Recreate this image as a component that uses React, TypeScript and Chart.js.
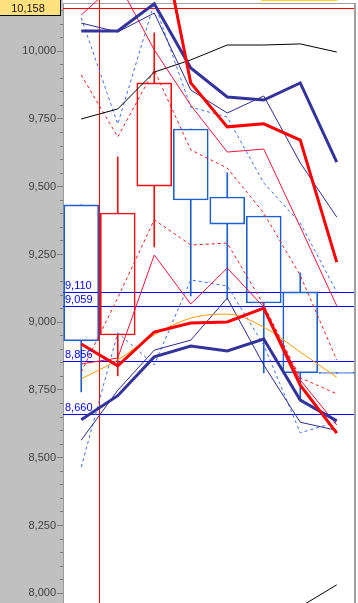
import React, { useEffect, useRef } from "react";
import { Chart, registerables } from "chart.js";

Chart.register(...registerables);

// ---- data ----
const categories = ["1", "2", "3", "4", "5", "6", "7", "8"];

const candleOpen = [9433, 8953, 9502, 9713, 9462, 9392, 9112, 8815];
const candleClose = [8931, 9403, 9883, 9451, 9362, 9071, 8813, 8811];
const candleHigh = [9433, 9610, 10068, 9713, 9551, 9392, 9182, 8815];
const candleLow = [8743, 8802, 9278, 9097, 9085, 8813, 8713, 8811];

const thickNavyTop = [10075, 10075, 10175, 9938, 9831, 9820, 9883, 9591];
const thinNavyTop = [10104, 10071, 10141, 9857, 9772, 9835, 9588, 9388];
const thickRedTop = [null, null, 10558, 9883, 9721, 9732, 9672, 9222];
const thickRedLow = [8920, 8839, 8964, 8997, 9001, 9052, 8768, 8591];
const thickNavyLow = [8640, 8729, 8872, 8912, 8894, 8938, 8713, 8636];
const orangeLine = [8791, 8861, 8953, 9015, 9030, 8982, 8890, 8797];
const blackLine = [9750, 9787, 9923, 9968, 10023, 10023, 10027, 9997];
const blackLow = [null, null, null, null, null, null, 7950, 8031];
const thinRedTop = [10134, 10256, 10005, 9801, 9628, 9639, 9352, 9060];
const thinRedLow = [8846, 8868, 9248, 9067, 9200, 9056, 8787, 8621];
const redDashTop = [9912, 9684, 9931, 9636, 9569, 9403, 9173, 8861];
const redDashLow = [8817, 9090, 9378, 9285, 9292, 9064, 8795, 8736];
const blueDashTop = [10123, 9731, 10178, 9794, 9757, 9514, 9366, 9112];
const blueDashLow = [8466, 8961, 8843, 9156, 9134, 8916, 8592, 8632];
const thinNavyLow = [8565, 8749, 8897, 8934, 9089, 8842, 8631, 8601];

const tickValues = [8000, 8250, 8500, 8750, 9000, 9250, 9500, 9750, 10000];
const refLevels = [10158, 9110, 9059, 8856, 8660];
const refLabels = ["10,158", "9,110", "9,059", "8,856", "8,660"];
const refColors = ["#ff0000", "#0000ff", "#0000ff", "#0000ff", "#0000ff"];
const markerIndex = 0.5;

const yMin = 7964;
const yMax = 10178;
const majorStep = 250;
const minorStep = 50;

const RED_C = "#ee1111";
const BLUE_C = "#1f5fcc";

const candleColors = candleOpen.map((o, i) => (candleClose[i] >= o ? RED_C : BLUE_C));
const bodies = candleOpen.map((o, i) => [o, candleClose[i]]);
const upperWicks = candleOpen.map((o, i) => [Math.max(o, candleClose[i]), candleHigh[i]]);
const lowerWicks = candleOpen.map((o, i) => [candleLow[i], Math.min(o, candleClose[i])]);

const FONT = "Liberation Sans, Arial, sans-serif";

function line(data: (number | null)[], color: string, width: number, dash: number[] = [], extra: any = {}) {
  return {
    type: "line" as const,
    data,
    borderColor: color,
    borderWidth: width,
    borderDash: dash,
    pointRadius: 0,
    tension: 0,
    fill: false,
    spanGaps: false,
    clip: false as any,
    ...extra,
  };
}

const decor = {
  id: "decor",
  beforeDraw(chart: any) {
    const { ctx, chartArea, width, height } = chart;
    ctx.save();
    ctx.fillStyle = "#ffffff";
    ctx.fillRect(0, 0, width, height);
    ctx.fillStyle = "#c0c0c0";
    ctx.fillRect(0, 0, chartArea.left, height);
    ctx.restore();
  },
  beforeDatasetsDraw(chart: any) {
    const { ctx, chartArea, height } = chart;
    const y = chart.scales.y;
    const x = chart.scales.x;
    ctx.save();
    ctx.fillStyle = "#a0a0a0";
    ctx.fillRect(chartArea.left, chartArea.top, chartArea.right - chartArea.left, 1);
    ctx.fillRect(chartArea.right - 1, chartArea.top, 2, height - chartArea.top);
    refLevels.forEach((v, i) => {
      const py = Math.floor(y.getPixelForValue(v));
      ctx.fillStyle = refColors[i];
      ctx.fillRect(chartArea.left, py, chartArea.right - chartArea.left - 1, 1);
    });
    const px = Math.floor(x.getPixelForValue(markerIndex));
    ctx.fillStyle = "#ff0000";
    ctx.fillRect(px, 0, 1, height);
    ctx.restore();
  },
  afterDraw(chart: any) {
    const { ctx, chartArea } = chart;
    const y = chart.scales.y;
    ctx.save();
    ctx.fillStyle = "#808080";
    for (let v = Math.ceil(yMin / minorStep) * minorStep; v <= yMax; v += minorStep) {
      if (v % majorStep === 0) continue;
      const py = Math.floor(y.getPixelForValue(v));
      ctx.fillRect(chartArea.left - 3, py, 3, 1);
    }
    ctx.font = `11px ${FONT}`;
    ctx.textBaseline = "alphabetic";
    ctx.textAlign = "left";
    refLevels.forEach((v, i) => {
      if (i === 0) return;
      const py = Math.floor(y.getPixelForValue(v));
      ctx.fillStyle = "#0000ff";
      ctx.fillText(refLabels[i], chartArea.left + 2, py - 3);
    });
    ctx.fillStyle = "#ffe27f";
    ctx.fillRect(0, 0, 60, 15);
    ctx.fillStyle = "#000000";
    ctx.fillRect(60, 0, 1, 16);
    ctx.fillRect(0, 15, 61, 1);
    ctx.fillStyle = "#111111";
    ctx.textAlign = "center";
    ctx.fillText(refLabels[0], 28, 12);
    ctx.fillStyle = "#ffd21f";
    ctx.fillRect(261, 0, 76, 1);
    ctx.restore();
  },
};

export default function App() {
  const ref = useRef<HTMLCanvasElement | null>(null);
  useEffect(() => {
    document.body.style.margin = "0";
    const canvas = ref.current!;
    const chart = new Chart(canvas, {
      type: "bar",
      data: {
        labels: categories,
        datasets: [
          line(thickRedLow, "#ff0000", 3),
          line(thickNavyLow, "#333399", 3),
          line(thickRedTop, "#ff0000", 3),
          line(thickNavyTop, "#333399", 3),
          line(orangeLine, "#ff9900", 1, [], { cubicInterpolationMode: "monotone" }),
          line(thinNavyTop, "#2b2b8c", 1),
          line(thinNavyLow, "#2b2b8c", 1),
          line(thinRedTop, "#f0143c", 1),
          line(thinRedLow, "#f0143c", 1),
          line(blackLine, "#000000", 1),
          line(blackLow, "#000000", 1),
          line(redDashTop, "#ee1c1c", 1, [3, 3]),
          line(redDashLow, "#ee1c1c", 1, [3, 3]),
          line(blueDashTop, "#3a6ef0", 1, [3, 3]),
          line(blueDashLow, "#3a6ef0", 1, [3, 3]),
          {
            type: "bar",
            data: bodies as any,
            backgroundColor: "rgba(0,0,0,0)",
            borderColor: candleColors,
            borderWidth: 1,
            borderSkipped: false,
            barThickness: 35,
            grouped: false,
          } as any,
          {
            type: "bar",
            data: upperWicks as any,
            backgroundColor: candleColors,
            borderWidth: 0,
            barThickness: 1,
            grouped: false,
          } as any,
          {
            type: "bar",
            data: lowerWicks as any,
            backgroundColor: candleColors,
            borderWidth: 0,
            barThickness: 1,
            grouped: false,
          } as any,
        ],
      },
      options: {
        animation: false,
        responsive: false,
        devicePixelRatio: 1,
        events: [],
        layout: { padding: { top: 3, right: 3, bottom: 0, left: 0 } },
        plugins: { legend: { display: false }, tooltip: { enabled: false } },
        scales: {
          x: { type: "category", display: false, offset: true },
          y: {
            type: "linear",
            position: "left",
            min: yMin,
            max: yMax,
            afterBuildTicks: (s: any) => {
              s.ticks = tickValues.map((v) => ({ value: v }));
            },
            ticks: {
              color: "#404040",
              font: { family: FONT, size: 11 },
              padding: 1,
              autoSkip: false,
              callback: (v: any) => Number(v).toLocaleString("en-US"),
            },
            grid: {
              drawOnChartArea: false,
              drawTicks: true,
              tickLength: 6,
              tickColor: "#808080",
            },
            border: { display: true, color: "#9a9a9a" },
            afterFit: (s: any) => {
              s.width = 63;
              s.paddingTop = 0;
              s.paddingBottom = 0;
            },
          },
        },
      } as any,
      plugins: [decor],
    });
    return () => chart.destroy();
  }, []);
  return (
    <div style={{ position: "fixed", left: 0, top: 0, width: 358, height: 603 }}>
      <canvas ref={ref} width={358} height={603} style={{ display: "block", width: 358, height: 603 }} />
    </div>
  );
}
